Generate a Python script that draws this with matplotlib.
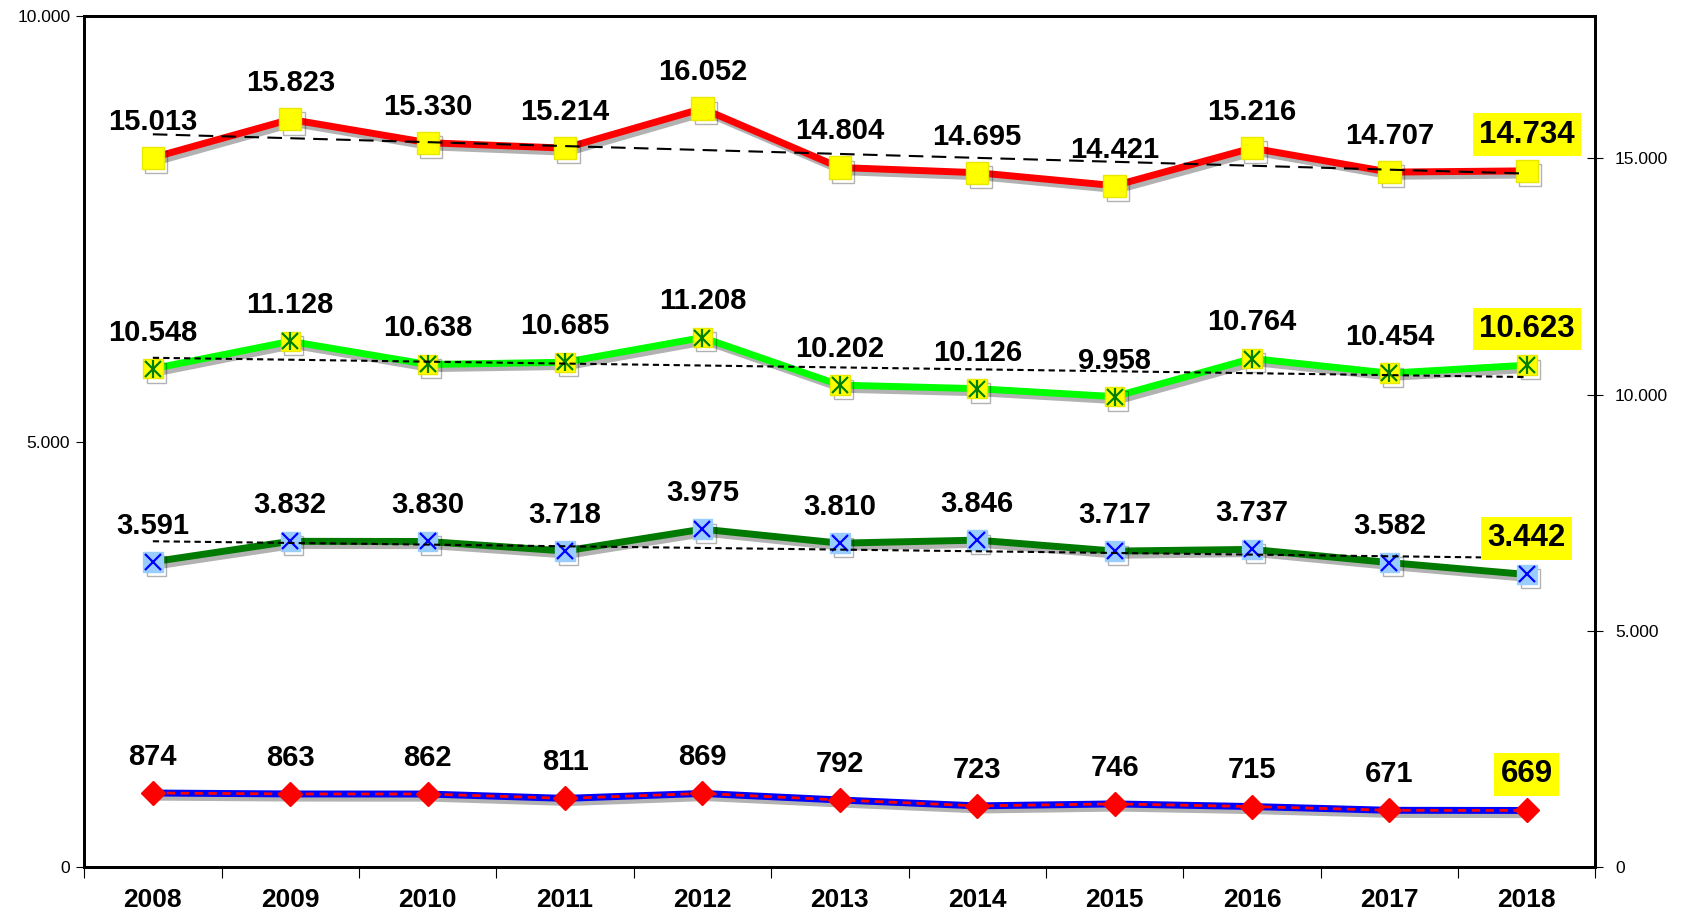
import numpy as np
import matplotlib.pyplot as plt
import matplotlib.patheffects as pe
from matplotlib.ticker import FuncFormatter

plt.rcParams['font.family'] = ['Liberation Sans', 'DejaVu Sans']

years = ['2008', '2009', '2010', '2011', '2012', '2013', '2014', '2015', '2016', '2017', '2018']
red_vals = [15013, 15823, 15330, 15214, 16052, 14804, 14695, 14421, 15216, 14707, 14734]
green_vals = [10548, 11128, 10638, 10685, 11208, 10202, 10126, 9958, 10764, 10454, 10623]
dgreen_vals = [3591, 3832, 3830, 3718, 3975, 3810, 3846, 3717, 3737, 3582, 3442]
blue_vals = [874, 863, 862, 811, 869, 792, 723, 746, 715, 671, 669]

x = np.arange(len(years))


def fmt(v):
    return '{:,}'.format(int(round(v))).replace(',', '.')


shadow = [pe.SimpleLineShadow(offset=(2.5, -3), shadow_color='black', alpha=0.3), pe.Normal()]

fig = plt.figure(figsize=(16.83, 9.14), dpi=100)
ax = fig.add_axes([0.050, 0.051, 0.898, 0.931])
ax2 = ax.twinx()

# left axis series
ax.plot(x, dgreen_vals, color='#007a00', lw=5, zorder=3, path_effects=shadow)
ax.plot(x, dgreen_vals, ls='none', marker='s', ms=14, mfc='#99ccff', mec='#99ccff', zorder=4,
        path_effects=shadow)
ax.plot(x, dgreen_vals, ls='none', marker='x', ms=11, mew=1.6, color='#0000ff', zorder=5)
ax.plot(x, blue_vals, color='#0000ff', lw=5, zorder=3, path_effects=shadow)
ax.plot(x, blue_vals, color='red', lw=2, ls=(0, (3, 2)), marker='D', ms=12, mfc='red', mec='red',
        zorder=4)

# right axis series
ax2.plot(x, red_vals, color='red', lw=5, zorder=3, path_effects=shadow)
ax2.plot(x, red_vals, ls='none', marker='s', ms=16, mfc='yellow', mec='#e8e800', zorder=4,
         path_effects=shadow)
ax2.plot(x, green_vals, color='#00ff00', lw=5, zorder=3, path_effects=shadow)
ax2.plot(x, green_vals, ls='none', marker='s', ms=14, mfc='yellow', mec='#e8e800', zorder=4,
         path_effects=shadow)
ax2.plot(x, green_vals, ls='none', marker='x', ms=11, mew=1.6, color='#008000', zorder=5)
ax2.plot(x, green_vals, ls='none', marker='|', ms=13, mew=1.6, color='#008000', zorder=5)

# linear trend lines
for a, vals, dash in [(ax2, red_vals, (0, (7, 4))), (ax2, green_vals, (0, (3, 2))),
                      (ax, dgreen_vals, (0, (3, 2)))]:
    k, b = np.polyfit(x, vals, 1)
    a.plot(x, k * x + b, color='black', lw=1.5, ls=dash, zorder=6)

# data labels
for a, vals in [(ax2, red_vals), (ax2, green_vals), (ax, dgreen_vals), (ax, blue_vals)]:
    for i, v in enumerate(vals):
        last = i == len(vals) - 1
        kw = {}
        if last:
            kw['bbox'] = dict(boxstyle='square,pad=0.2', fc='yellow', ec='none')
        a.annotate(fmt(v), (x[i], v), xytext=(0, 26), textcoords='offset points',
                   ha='center', va='center', fontsize=22.5 if last else 21, fontweight='bold',
                   zorder=7, **kw)

ax.set_xlim(-0.5, len(years) - 0.5)
ax.set_ylim(0, 10000)
ax2.set_ylim(0, 18000)
ax.set_yticks([0, 5000, 10000])
ax2.set_yticks([0, 5000, 10000, 15000])
ax.yaxis.set_major_formatter(FuncFormatter(lambda v, p: fmt(v)))
ax2.yaxis.set_major_formatter(FuncFormatter(lambda v, p: fmt(v)))
ax.tick_params(axis='y', direction='out', length=6, labelsize=12.5, pad=4)
ax2.tick_params(axis='y', direction='inout', length=12, labelsize=12.5, pad=8)

ax.set_xticks(np.arange(-0.5, len(years), 1.0))
ax.set_xticklabels([])
ax.set_xticks(x, minor=True)
ax.set_xticklabels(years, minor=True, fontsize=19, fontweight='bold')
ax.tick_params(axis='x', which='major', direction='out', length=8)
ax.tick_params(axis='x', which='minor', length=0, pad=15)

for a in (ax, ax2):
    for s in a.spines.values():
        s.set_linewidth(2)
        s.set_color('black')

fig.savefig('out.png', dpi=100)
